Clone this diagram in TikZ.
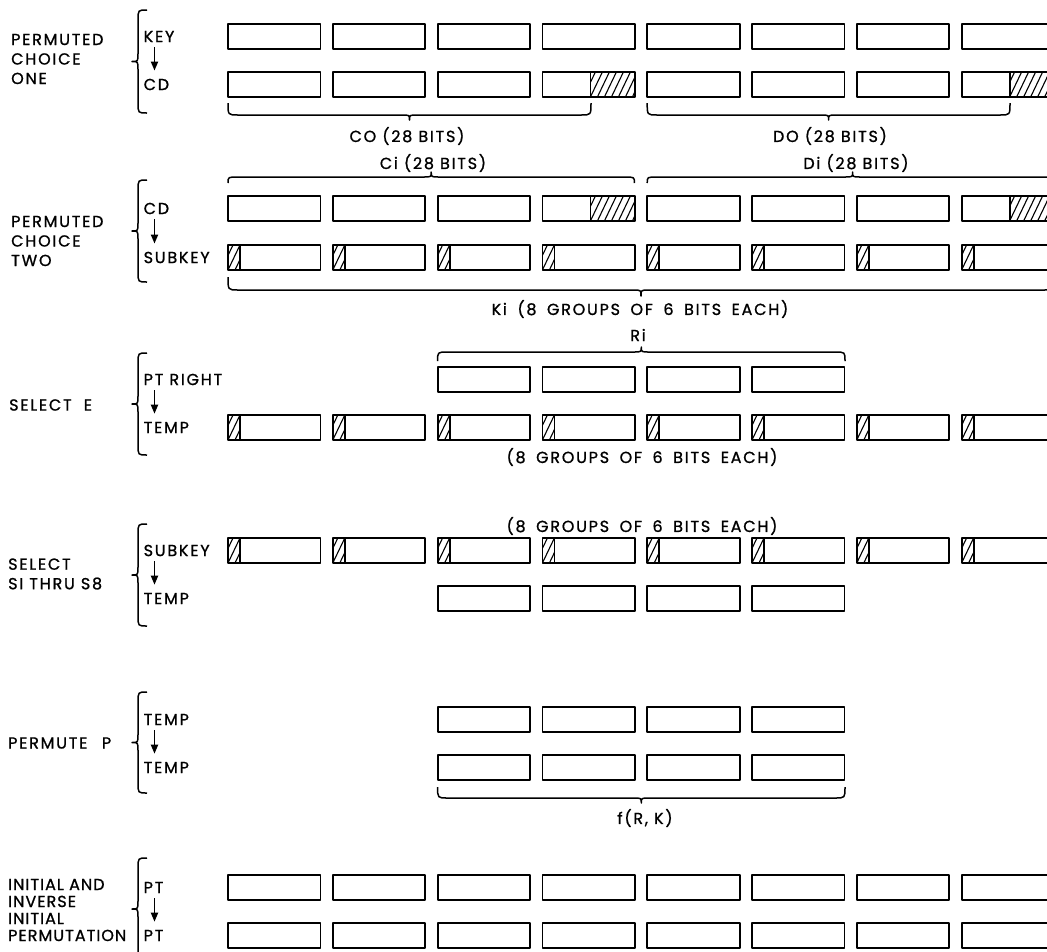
\documentclass[tikz,border=0pt]{standalone}
\usepackage{fontspec}
\setmainfont{Poppins}[LetterSpace=11,FakeBold=1]
\newfontfamily\narrowfont{Poppins}[LetterSpace=6.5,FakeBold=1]
\usetikzlibrary{arrows.meta}
\newcommand\capfont{\fontsize{16}{18}\selectfont}
\newcommand\widecapfont{\fontsize{16}{18}\selectfont\spaceskip 10.5pt\relax}
\newcommand\widelblfont{\fontsize{16}{19.5}\selectfont\spaceskip 14.5pt\relax}
\newcommand\narrowlblfont{\fontsize{16}{19.5}\selectfont\narrowfont}
\newcommand\lblfont{\fontsize{16}{19.5}\selectfont}
\newcommand\hatchrect[4]{%
  \begin{scope}
    \clip (#1,#3) rectangle (#2,#4);
    \foreach \k in {0,7,...,70} \draw[hatchline] (#1+\k-14,#4) -- (#1+\k-2,#3);
  \end{scope}}
\newcommand\hbr[5]{%
  \draw[brc] (#1,#3) .. controls (#1,#4) .. (#1+10,#4) -- ({(#1+#2)/2-8},#4)
    .. controls ({(#1+#2)/2},#4) .. ({(#1+#2)/2},#5)
    .. controls ({(#1+#2)/2},#4) .. ({(#1+#2)/2+8},#4) -- (#2-10,#4)
    .. controls (#2,#4) .. (#2,#3);}
\newcommand\vbr[5]{%
  \draw[brc] (#1,#4) .. controls (#2,#4) .. (#2,#4+10) -- (#2,{(#4+#5)/2-8})
    .. controls (#2,{(#4+#5)/2}) .. (#3,{(#4+#5)/2})
    .. controls (#2,{(#4+#5)/2}) .. (#2,{(#4+#5)/2+8}) -- (#2,#5-10)
    .. controls (#2,#5) .. (#1,#5);}
\begin{document}
\begin{tikzpicture}[x=1pt,y=-1pt,line join=round,
  cell/.style={draw=black,line width=1.8pt},
  hatchline/.style={line width=1.1pt},
  lbl/.style={font=\lblfont,inner sep=0pt,anchor=west,align=left},
  captxt/.style={font=\capfont,inner sep=0pt},
  widecap/.style={font=\widecapfont,inner sep=0pt},
  brc/.style={line width=1.5pt},
  arr/.style={line width=1.8pt,-{Triangle[length=9pt,width=7pt]}}]
\useasboundingbox (0,0) rectangle (1047,951);
\fill[white] (0,0) rectangle (1047,951);
\begin{scope}
\clip (0,0) rectangle (1047,951);
% plain full rows
\foreach \y in {24,875,923}{
  \foreach \i in {0,...,7} \draw[cell] (228+104.8*\i,\y) rectangle ++(92.5,25);
}
% CD rows with hatched right half of the 4th and 8th bytes
\foreach \y in {72,196}{
  \foreach \i in {0,...,7} \draw[cell] (228+104.8*\i,\y) rectangle ++(92.5,25);
  \foreach \i in {3,7} {\hatchrect{228+104.8*\i+48}{228+104.8*\i+92.5}{\y}{\y+25}
     \draw[cell] (228+104.8*\i+48,\y) -- ++(0,25);}
}
% 6-bit groups with hatched unused bits at left
\foreach \y in {245,415,538}{
  \foreach \i in {0,...,7} {\hatchrect{228+104.8*\i}{228+104.8*\i+12}{\y}{\y+25}
     \draw[cell] (228+104.8*\i+12,\y) -- ++(0,25);
     \draw[cell] (228+104.8*\i,\y) rectangle ++(92.5,25);}
}
% 32-bit rows
\foreach \y in {367,586,707,755}{
  \foreach \i in {2,...,5} \draw[cell] (228+104.8*\i,\y) rectangle ++(92.5,25);
}
% horizontal braces
\hbr{228}{591}{103}{115}{120}
\hbr{647.2}{1010}{103}{115}{120}
\hbr{228}{634.4}{183}{177}{172}
\hbr{647.2}{1058}{183}{177}{172}
\hbr{228}{1054}{277}{290}{296}
\hbr{437.6}{845}{361}{352}{347}
\hbr{437.6}{845}{787}{798}{803}
% vertical braces
\vbr{147}{138}{132}{10}{113}
\vbr{147}{138}{132}{180}{282}
\vbr{147}{138}{132}{353}{455}
\vbr{147}{138}{132}{524}{626}
\vbr{147}{138}{132}{692}{793}
\vbr{147}{138}{132}{858}{960}
\end{scope}
% brace captions
\node[captxt] (c0) at (407,136) {CO (28 BITS)};
\node[captxt] (d0) at (830,136) {DO (28 BITS)};
\node[captxt] (ci) at (433,163) {Ci (28 BITS)};
\node[captxt] (di) at (856,163) {Di (28 BITS)};
\node[widecap] (ki) at (640,309) {Ki (8 GROUPS OF 6 BITS EACH)};
\node[captxt] (ri) at (638,335) {Ri};
\node[widecap] (ge) at (642,457) {(8 GROUPS OF 6 BITS EACH)};
\node[widecap] (gs) at (642,526) {(8 GROUPS OF 6 BITS EACH)};
\node[captxt] (frk) at (645,818) {f(R, K)};
% step names
\node[lbl] (s1) at (11,59) {PERMUTED\\CHOICE\\ONE};
\node[lbl] (s2) at (11,241) {PERMUTED\\CHOICE\\TWO};
\node[lbl] (s3) at (9,405) {SELECT\ \ E};
\node[lbl] (s4) at (8,574) {SELECT\\SI THRU S8};
\node[lbl,font=\widelblfont] (s5) at (8,743) {PERMUTE P};
\node[lbl,font=\narrowlblfont] (s6) at (8,910) {INITIAL AND\\[-2.5pt]INVERSE\\[-2.5pt]INITIAL\\[-2.5pt]PERMUTATION};
% source -> destination
\node[lbl] (a1) at (143.5,36.5) {KEY};
\node[lbl] (b1) at (143.5,84.5) {CD};
\node[lbl] (a2) at (143.5,208.5) {CD};
\node[lbl] (b2) at (143.5,257.5) {SUBKEY};
\node[lbl] (a3) at (143.5,379.5) {PT RIGHT};
\node[lbl] (b3) at (143.5,427.5) {TEMP};
\node[lbl] (a4) at (143.5,550.5) {SUBKEY};
\node[lbl] (b4) at (143.5,598.5) {TEMP};
\node[lbl] (a5) at (143.5,719.5) {TEMP};
\node[lbl] (b5) at (143.5,767.5) {TEMP};
\node[lbl] (a6) at (143.5,887.5) {PT};
\node[lbl] (b6) at (143.5,935.5) {PT};
\foreach \n in {1,...,6}
  \draw[arr] ([xshift=11pt,yshift=-5pt]a\n.south west) -- ([xshift=11pt,yshift=8pt]b\n.north west);
\end{tikzpicture}
\end{document}
